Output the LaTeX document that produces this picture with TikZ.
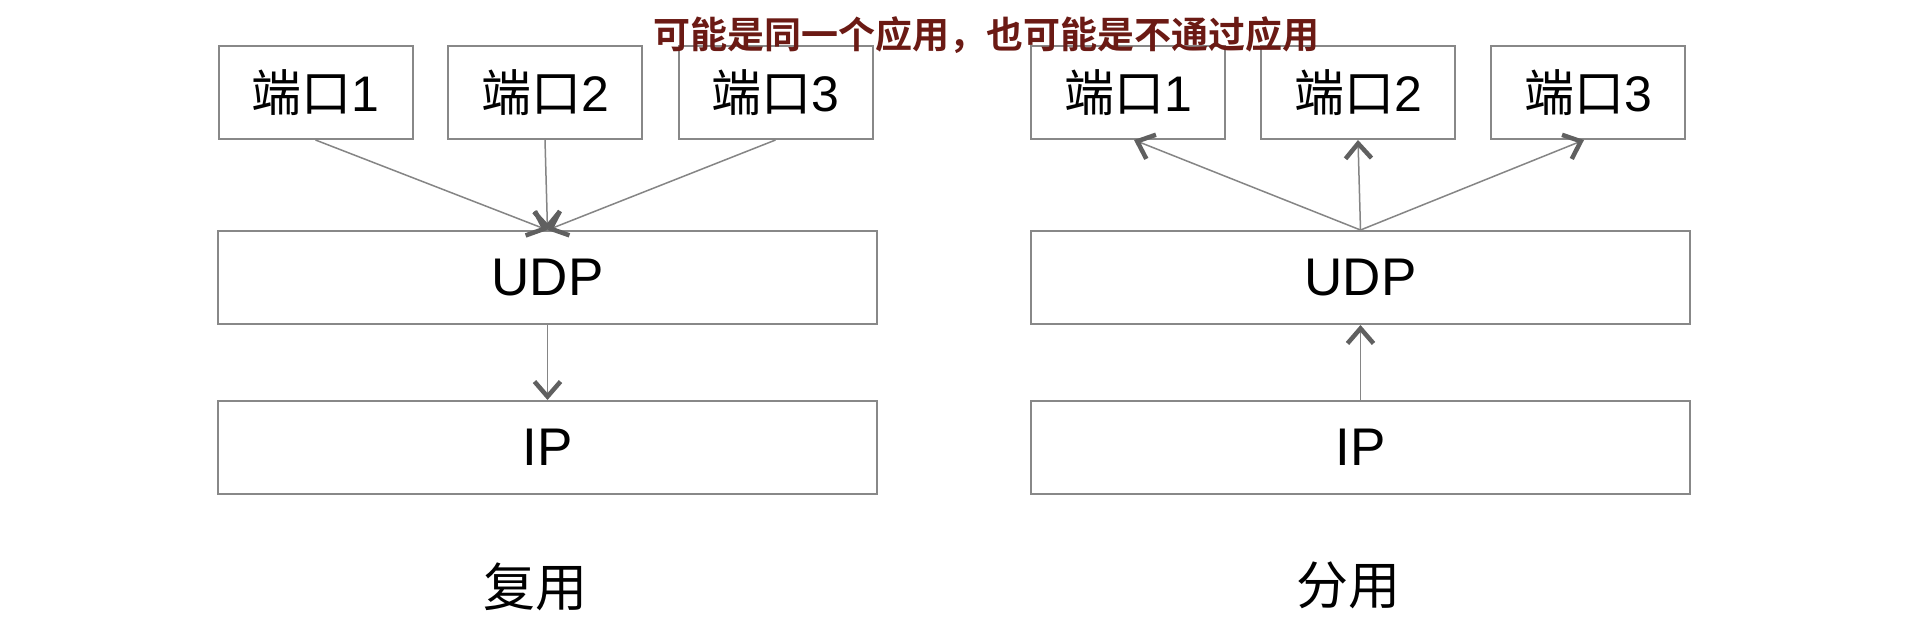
\documentclass[tikz,border=0pt]{standalone}
\usepackage{fontspec}
\setmainfont{Liberation Sans}
\newfontfamily\cjk{Noto Sans CJK SC}
\newfontfamily\cjkbold{Noto Sans CJK SC Bold}
\usetikzlibrary{arrows.meta}
\definecolor{boxline}{HTML}{888888}
\definecolor{arrline}{HTML}{858585}
\definecolor{arrhead}{HTML}{606060}
\definecolor{darkred}{HTML}{6B1A14}
\tikzset{
  portbox/.style={draw=boxline, line width=2pt, minimum width=194pt, minimum height=93pt, inner sep=0pt,
    font=\fontsize{50}{50}\selectfont},
  layerbox/.style={draw=boxline, line width=2pt, minimum width=659pt, minimum height=93pt, inner sep=0pt,
    font=\fontsize{53}{53}\selectfont},
  caption/.style={inner sep=0pt, font=\cjk\fontsize{52}{52}\selectfont},
  conn/.style={draw=arrline, line width=1.5pt,
    -{Straight Barb[length=15pt, width=26pt, line width=4.5pt, color=arrhead]}},
}
\begin{document}
\begin{tikzpicture}[x=1pt, y=-1pt]
\useasboundingbox[fill=white] (0,0) rectangle (1908,622);
% left: multiplexing
\node[portbox] (lp1) at (315.5,92.5) {{\cjk 端口}1};
\node[portbox] (lp2) at (545,92.5) {{\cjk 端口}2};
\node[portbox] (lp3) at (775.5,92.5) {{\cjk 端口}3};
\node[layerbox] (ludp) at (547.5,277.5) {UDP};
\node[layerbox] (lip) at (547.5,447.5) {IP};
\node[caption] (lcap) at (535,587) {复用};
\draw[conn] (lp1.south) -- (ludp.north);
\draw[conn] (lp2.south) -- (ludp.north);
\draw[conn] (lp3.south) -- (ludp.north);
\draw[conn] (ludp.south) -- (lip.north);
% right: demultiplexing
\node[portbox] (rp1) at (1128,92.5) {{\cjk 端口}1};
\node[portbox] (rp2) at (1358,92.5) {{\cjk 端口}2};
\node[portbox] (rp3) at (1588,92.5) {{\cjk 端口}3};
\node[layerbox] (rudp) at (1360.5,277.5) {UDP};
\node[layerbox] (rip) at (1360.5,447.5) {IP};
\node[caption] (rcap) at (1348,585) {分用};
\draw[conn] (rudp.north) -- ([xshift=6pt]rp1.south);
\draw[conn] (rudp.north) -- (rp2.south);
\draw[conn] (rudp.north) -- ([xshift=-4pt]rp3.south);
\draw[conn] (rip.north) -- (rudp.south);
% note
\node[inner sep=0pt, text=darkred, font=\cjkbold\fontsize{37}{37}\selectfont] (note) at (986,35) {可能是同一个应用，也可能是不通过应用};
\end{tikzpicture}
\end{document}
